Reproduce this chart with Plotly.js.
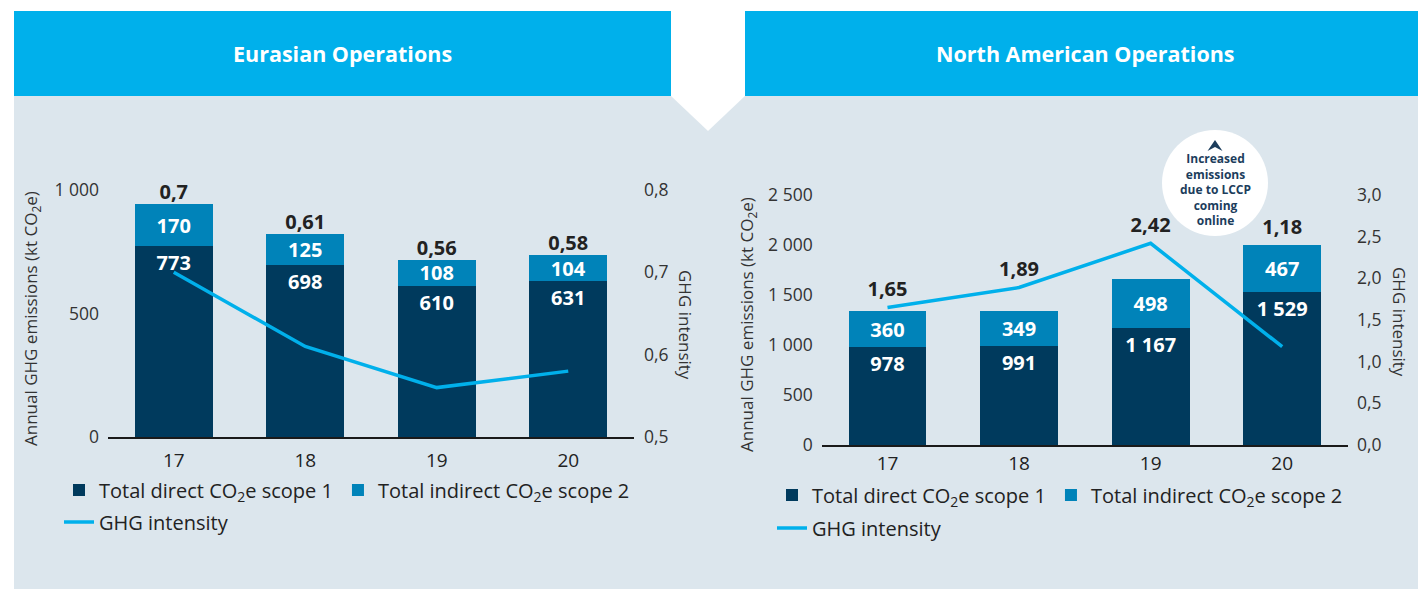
<!DOCTYPE html>
<html>
<head>
<meta charset="utf-8">
<script src="https://cdn.plot.ly/plotly-3.0.1.min.js"></script>
<style>html,body{margin:0;padding:0;background:#fff;}#chart{width:1418px;height:589px;}</style>
</head>
<body>
<div id="chart"></div>
<script>
// ---- data ----
const years = ['17', '18', '19', '20'];
const eurScope1 = [773, 698, 610, 631];
const eurScope2 = [170, 125, 108, 104];
const eurIntensity = [0.7, 0.61, 0.56, 0.58];
const naScope1 = [978, 991, 1167, 1529];
const naScope2 = [360, 349, 498, 467];
const naIntensity = [1.65, 1.89, 2.42, 1.18];
const eurLeftTicks = [0, 500, 1000];
const eurRightTicks = [0.5, 0.6, 0.7, 0.8];
const naLeftTicks = [0, 500, 1000, 1500, 2000, 2500];
const naRightTicks = [0, 0.5, 1.0, 1.5, 2.0, 2.5, 3.0];
const titles = ['Eurasian Operations', 'North American Operations'];
const calloutLines = ['Increased', 'emissions', 'due to LCCP', 'coming', 'online'];

// ---- helpers ----
const W = 1418, H = 589;
const px = x => x / W;
const py = y => 1 - y / H;
const fmtInt = v => String(v).replace(/\B(?=(\d{3})+(?!\d))/g, ' ');
const fmtDec = (v, d) => (d === undefined ? String(v) : v.toFixed(d)).replace('.', ',');

const NAVY = '#003a5d', MID = '#0083b9', CYAN = '#00b0eb', PANEL = '#dce6ed', TXT = '#222222';
const FONT = '"Open Sans", sans-serif';

// left chart scale: 0.247 px per kt, right chart 0.1 px per kt
const eurYMax = (437 - 120) / 0.247;
const naYMax = (445 - 120) / 0.1;
const eurY2Min = 0.5, eurY2Max = 0.5 + 0.3 * eurYMax / 1000;
const naY2Max = 3 * naYMax / 2500;

const insideFont = {family: FONT, size: 20, color: '#ffffff', weight: 'bold'};
const labelFont = {family: FONT, size: 20, color: TXT, weight: 'bold'};
const legendName1 = 'Total direct CO<sub>2</sub>e scope 1';
const legendName2 = 'Total indirect CO<sub>2</sub>e scope 2';

// label anchor: the higher of stack top and line point (in left-axis units)
const eurLabelY = years.map((_, i) => Math.max(eurScope1[i] + eurScope2[i], (eurIntensity[i] - 0.5) / 0.3 * 1000));
const naLabelY = years.map((_, i) => Math.max(naScope1[i] + naScope2[i], naIntensity[i] / 3 * 2500));

const traces = [
  {type: 'bar', x: years, y: eurScope1, xaxis: 'x', yaxis: 'y', name: legendName1,
   marker: {color: NAVY}, text: eurScope1.map(fmtInt), textposition: 'inside', insidetextanchor: 'end',
   textfont: insideFont, constraintext: 'none', legend: 'legend', hoverinfo: 'skip'},
  {type: 'bar', x: years, y: eurScope2, xaxis: 'x', yaxis: 'y', name: legendName2,
   marker: {color: MID}, text: eurScope2.map(fmtInt), textposition: 'inside', insidetextanchor: 'middle',
   textfont: insideFont, constraintext: 'none', legend: 'legend', hoverinfo: 'skip'},
  {type: 'scatter', mode: 'lines', x: years, y: eurIntensity, xaxis: 'x', yaxis: 'y2', name: 'GHG intensity',
   line: {color: CYAN, width: 3.5}, legend: 'legend2', hoverinfo: 'skip'},
  {type: 'scatter', mode: 'text', x: years, y: eurLabelY, xaxis: 'x', yaxis: 'y',
   text: eurIntensity.map(v => fmtDec(v)), textposition: 'top center', textfont: labelFont,
   showlegend: false, hoverinfo: 'skip'},
  {type: 'bar', x: years, y: naScope1, xaxis: 'x2', yaxis: 'y3', name: legendName1,
   marker: {color: NAVY}, text: naScope1.map(fmtInt), textposition: 'inside', insidetextanchor: 'end',
   textfont: insideFont, constraintext: 'none', legend: 'legend3', hoverinfo: 'skip'},
  {type: 'bar', x: years, y: naScope2, xaxis: 'x2', yaxis: 'y3', name: legendName2,
   marker: {color: MID}, text: naScope2.map(fmtInt), textposition: 'inside', insidetextanchor: 'middle',
   textfont: insideFont, constraintext: 'none', legend: 'legend3', hoverinfo: 'skip'},
  {type: 'scatter', mode: 'lines', x: years, y: naIntensity, xaxis: 'x2', yaxis: 'y4', name: 'GHG intensity',
   line: {color: CYAN, width: 3.5}, legend: 'legend4', hoverinfo: 'skip'},
  {type: 'scatter', mode: 'markers+text', x: years, y: naLabelY, xaxis: 'x2', yaxis: 'y3',
   marker: {size: 9, opacity: 0}, cliponaxis: false,
   text: naIntensity.map(v => fmtDec(v)), textposition: 'top center', textfont: labelFont,
   showlegend: false, hoverinfo: 'skip'}
];

const annotations = [];
const paperAnn = (x, y, text, font, extra) => Object.assign({xref: 'paper', yref: 'paper', x: px(x), y: py(y),
  xanchor: 'center', yanchor: 'middle', text: text, showarrow: false, font: font}, extra || {});
// header titles
annotations.push(paperAnn(342.5, 54, titles[0], {family: FONT, size: 21.5, color: '#ffffff', weight: 'bold'}));
annotations.push(paperAnn(1085, 54, titles[1], {family: FONT, size: 21.5, color: '#ffffff', weight: 'bold'}));
// axis titles
const axTitle = 'Annual GHG emissions (kt CO<sub>2</sub>e)';
const axFont = {family: FONT, size: 17, color: '#333333'};
annotations.push(paperAnn(31, 319, axTitle, axFont, {textangle: -90}));
annotations.push(paperAnn(686, 325, 'GHG intensity', axFont, {textangle: 90}));
annotations.push(paperAnn(747, 324, axTitle, axFont, {textangle: -90}));
annotations.push(paperAnn(1400, 322, 'GHG intensity', axFont, {textangle: 90}));
// callout text
annotations.push(paperAnn(1215, 189, calloutLines.join('<br>'), {family: FONT, size: 12, color: '#1c3d5c', weight: 'bold'}));

const chevron = `M ${px(1207.5)},${py(151)} L ${px(1215)},${py(140)} L ${px(1222.5)},${py(151)} L ${px(1215)},${py(147)} Z`;
const notch = `M ${px(671)},${py(96)} L ${px(745)},${py(96)} L ${px(708)},${py(131)} Z`;
const shapes = [
  {type: 'rect', xref: 'paper', yref: 'paper', x0: px(14), x1: 1, y0: 0, y1: py(96), fillcolor: PANEL, line: {width: 0}, layer: 'below'},
  {type: 'rect', xref: 'paper', yref: 'paper', x0: px(14), x1: px(671), y0: py(96), y1: py(11), fillcolor: CYAN, line: {width: 0}, layer: 'below'},
  {type: 'rect', xref: 'paper', yref: 'paper', x0: px(745), x1: 1, y0: py(96), y1: py(11), fillcolor: CYAN, line: {width: 0}, layer: 'below'},
  {type: 'path', xref: 'paper', yref: 'paper', path: notch, fillcolor: '#ffffff', line: {width: 0}, layer: 'below'},
  {type: 'circle', xref: 'paper', yref: 'paper', x0: px(1162), x1: px(1268), y0: py(236), y1: py(130), fillcolor: '#ffffff', line: {width: 0}, layer: 'below'},
  {type: 'path', xref: 'paper', yref: 'paper', path: chevron, fillcolor: '#1c3d5c', line: {width: 0}, layer: 'below'}
];

const tickFont = {family: FONT, size: 17.5, color: '#333333'};
const catFont = {family: FONT, size: 19, color: TXT};
const legendBase = {orientation: 'h', xanchor: 'left', yanchor: 'middle', bgcolor: 'rgba(0,0,0,0)',
  font: {family: FONT, size: 20, color: TXT}, traceorder: 'normal', borderwidth: 0};

const layout = {
  width: W, height: H,
  margin: {l: 0, r: 0, t: 0, b: 0, pad: 0},
  paper_bgcolor: '#ffffff', plot_bgcolor: 'rgba(0,0,0,0)',
  font: {family: FONT, color: TXT},
  barmode: 'stack', bargap: 0.409,
  xaxis: {domain: [px(108), px(634)], anchor: 'y', type: 'category', range: [-0.5, 3.5],
    showline: true, linecolor: '#1a1a1a', linewidth: 2, ticks: '', tickfont: catFont,
    ticklabelstandoff: 5, showgrid: false, zeroline: false, fixedrange: true},
  yaxis: {domain: [py(437), py(120)], anchor: 'x', range: [0, eurYMax], tickvals: eurLeftTicks,
    ticktext: eurLeftTicks.map(fmtInt), tickfont: tickFont, showgrid: false, zeroline: false, showline: false,
    ticks: '', ticklabelstandoff: 8, fixedrange: true},
  yaxis2: {overlaying: 'y', side: 'right', anchor: 'x', range: [eurY2Min, eurY2Max], tickvals: eurRightTicks,
    ticktext: eurRightTicks.map(v => fmtDec(v, 1)), tickfont: tickFont, showgrid: false, zeroline: false,
    showline: false, ticks: '', ticklabelstandoff: 9, fixedrange: true},
  xaxis2: {domain: [px(821.7), px(1348)], anchor: 'y3', type: 'category', range: [-0.5, 3.5],
    showline: true, linecolor: '#1a1a1a', linewidth: 2, ticks: '', tickfont: catFont,
    ticklabelstandoff: 0, showgrid: false, zeroline: false, fixedrange: true},
  yaxis3: {domain: [py(445), py(120)], anchor: 'x2', range: [0, naYMax], tickvals: naLeftTicks,
    ticktext: naLeftTicks.map(fmtInt), tickfont: tickFont, showgrid: false, zeroline: false, showline: false,
    ticks: '', ticklabelstandoff: 8, fixedrange: true},
  yaxis4: {overlaying: 'y3', side: 'right', anchor: 'x2', range: [0, naY2Max], tickvals: naRightTicks,
    ticktext: naRightTicks.map(v => fmtDec(v, 1)), tickfont: tickFont, showgrid: false, zeroline: false,
    showline: false, ticks: '', ticklabelstandoff: 8, fixedrange: true},
  legend: Object.assign({}, legendBase, {x: px(59), y: py(490)}),
  legend2: Object.assign({}, legendBase, {x: px(59), y: py(522)}),
  legend3: Object.assign({}, legendBase, {x: px(772), y: py(495)}),
  legend4: Object.assign({}, legendBase, {x: px(772), y: py(528)}),
  annotations: annotations,
  shapes: shapes,
  showlegend: true
};

Plotly.newPlot('chart', traces, layout, {displayModeBar: false, staticPlot: true});
</script>
</body>
</html>
